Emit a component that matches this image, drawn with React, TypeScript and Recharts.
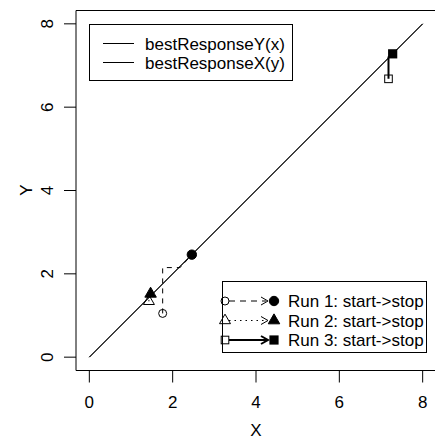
import { ComposedChart, Scatter, XAxis, YAxis, ReferenceArea } from 'recharts'

const FONT = '"Liberation Sans", Arial, Helvetica, sans-serif'
const FS = 17

// axis setup
const AXIS_DOMAIN: [number, number] = [-0.32, 8.32]
const X_TICKS = [0, 2, 4, 6, 8]
const Y_TICKS = [0, 2, 4, 6, 8]

// best-response curves (both sit on the diagonal)
const bestResponseY = [
  { x: 0, y: 0 },
  { x: 8, y: 8 },
]
const bestResponseX = [
  { x: 0, y: 0 },
  { x: 8, y: 8 },
]

// iteration paths, start -> stop
const run1Path = [
  { x: 1.76, y: 1.05 },
  { x: 1.76, y: 2.15 },
  { x: 2.18, y: 2.15 },
  { x: 2.46, y: 2.46 },
]
const run2Path = [
  { x: 1.43, y: 1.34 },
  { x: 1.43, y: 1.49 },
  { x: 1.47, y: 1.52 },
]
const run3Path = [
  { x: 7.18, y: 6.68 },
  { x: 7.18, y: 7.2 },
  { x: 7.28, y: 7.28 },
]

const run1Start = [{ x: 1.76, y: 1.05 }]
const run1Stop = [{ x: 2.46, y: 2.46 }]
const run2Start = [{ x: 1.43, y: 1.34 }]
const run2Stop = [{ x: 1.47, y: 1.52 }]
const run3Start = [{ x: 7.18, y: 6.68 }]
const run3Stop = [{ x: 7.28, y: 7.28 }]

const CURVE_LABELS = ['bestResponseY(x)', 'bestResponseX(y)']
const RUN_LABELS = ['Run 1: start->stop', 'Run 2: start->stop', 'Run 3: start->stop']

type Kind = 'circle' | 'triangle' | 'square'

function Marker({ kind, filled, cx, cy }: { kind: Kind; filled: boolean; cx: number; cy: number }) {
  const fill = filled ? '#000' : 'none'
  if (kind === 'circle') {
    return <circle cx={cx} cy={cy} r={filled ? 4.7 : 4} fill={fill} stroke="#000" strokeWidth={1} />
  }
  if (kind === 'triangle') {
    const s = filled ? 11.5 : 11
    const pts = [
      [cx, cy - s * 0.577],
      [cx - s / 2, cy + s * 0.289],
      [cx + s / 2, cy + s * 0.289],
    ]
      .map(p => p.join(','))
      .join(' ')
    return <polygon points={pts} fill={fill} stroke="#000" strokeWidth={1} />
  }
  const h = filled ? 4.6 : 3.8
  return <rect x={cx - h} y={cy - h} width={h * 2} height={h * 2} fill={fill} stroke="#000" strokeWidth={filled ? 0 : 1} />
}

const noDot = () => <g />
const dot = (kind: Kind, filled: boolean) => (p: any) => <Marker kind={kind} filled={filled} cx={p.cx} cy={p.cy} />

const XTick = (p: any) => (
  <text x={p.x} y={p.y + 23} textAnchor="middle" fontSize={FS} fontFamily={FONT} fill="#000">
    {p.payload.value}
  </text>
)

const YTick = (p: any) => {
  const bx = p.x - 9
  return (
    <text
      x={bx}
      y={p.y}
      transform={`rotate(-90, ${bx}, ${p.y})`}
      textAnchor="middle"
      fontSize={FS}
      fontFamily={FONT}
      fill="#000"
    >
      {p.payload.value}
    </text>
  )
}

function Arrow({ x, y, thick }: { x: number; y: number; thick?: boolean }) {
  return (
    <polyline
      points={`${x - 7},${y - 4} ${x},${y} ${x - 7},${y + 4}`}
      fill="none"
      stroke="#000"
      strokeWidth={thick ? 2 : 1}
    />
  )
}

function Legends() {
  const rows = [301, 320.5, 340]
  const kinds: Kind[] = ['circle', 'triangle', 'square']
  return (
    <svg width={435} height={441} style={{ position: 'absolute', left: 0, top: 0, pointerEvents: 'none' }}>
      {/* curve legend */}
      <rect x={89.5} y={24.5} width={203} height={56} fill="#fff" stroke="#000" />
      {CURVE_LABELS.map((lab, i) => {
        const y = 43.5 + i * 19
        return (
          <g key={lab}>
            <line x1={103} x2={134} y1={y} y2={y} stroke="#000" />
            <text x={145} y={y + 6} fontSize={FS} fontFamily={FONT} fill="#000">
              {lab}
            </text>
          </g>
        )
      })}

      {/* run legend */}
      <rect x={222.5} y={281.5} width={204} height={71} fill="#fff" stroke="#000" />
      {RUN_LABELS.map((lab, i) => {
        const y = rows[i]
        const dash = i === 0 ? '6 5' : i === 1 ? '1.5 4' : undefined
        return (
          <g key={lab}>
            <line
              x1={229}
              x2={i === 2 ? 268 : 266}
              y1={y}
              y2={y}
              stroke="#000"
              strokeWidth={i === 2 ? 2 : 1}
              strokeDasharray={dash}
            />
            <Arrow x={268} y={y} thick={i === 2} />
            <Marker kind={kinds[i]} filled={false} cx={225} cy={y} />
            <Marker kind={kinds[i]} filled cx={274} cy={y} />
            <text x={288} y={y + 6} fontSize={FS} fontFamily={FONT} fill="#000">
              {lab}
            </text>
          </g>
        )
      })}

      {/* axis titles */}
      <text x={256} y={436} textAnchor="middle" fontSize={FS} fontFamily={FONT} fill="#000">
        X
      </text>
      <text
        x={32}
        y={190}
        transform="rotate(-90, 32, 190)"
        textAnchor="middle"
        fontSize={FS}
        fontFamily={FONT}
        fill="#000"
      >
        Y
      </text>
    </svg>
  )
}

export default function App() {
  return (
    <div
      style={{
        position: 'absolute',
        left: 0,
        top: 0,
        width: 435,
        height: 441,
        overflow: 'hidden',
        background: '#fff',
        fontFamily: FONT,
      }}
    >
      <ComposedChart width={436} height={441} margin={{ top: 10.5, right: 0, bottom: 0, left: 0 }}>
        <XAxis
          type="number"
          dataKey="x"
          domain={AXIS_DOMAIN}
          ticks={X_TICKS}
          allowDataOverflow
          height={70.5}
          tickSize={12}
          axisLine={false}
          tickLine={{ stroke: '#000' }}
          tick={XTick}
          interval={0}
        />
        <YAxis
          type="number"
          dataKey="y"
          domain={AXIS_DOMAIN}
          ticks={Y_TICKS}
          allowDataOverflow
          width={76}
          tickSize={12}
          axisLine={false}
          tickLine={{ stroke: '#000' }}
          tick={YTick}
          interval={0}
        />
        <ReferenceArea
          x1={AXIS_DOMAIN[0]}
          x2={AXIS_DOMAIN[1]}
          y1={AXIS_DOMAIN[0]}
          y2={AXIS_DOMAIN[1]}
          fill="none"
          stroke="#000"
          strokeOpacity={1}
          ifOverflow="visible"
        />
        <Scatter data={bestResponseY} fill="#000" line={{ stroke: '#000', strokeWidth: 1 }} lineType="joint" shape={noDot} isAnimationActive={false} />
        <Scatter data={bestResponseX} fill="#000" line={{ stroke: '#000', strokeWidth: 1 }} lineType="joint" shape={noDot} isAnimationActive={false} />
        <Scatter data={run1Path} fill="#000" line={{ stroke: '#000', strokeWidth: 1, strokeDasharray: '5 5' }} lineType="joint" shape={noDot} isAnimationActive={false} />
        <Scatter data={run2Path} fill="#000" line={{ stroke: '#000', strokeWidth: 1, strokeDasharray: '1.5 3' }} lineType="joint" shape={noDot} isAnimationActive={false} />
        <Scatter data={run3Path} fill="#000" line={{ stroke: '#000', strokeWidth: 2 }} lineType="joint" shape={noDot} isAnimationActive={false} />
        <Scatter data={run1Start} shape={dot('circle', false)} isAnimationActive={false} />
        <Scatter data={run2Start} shape={dot('triangle', false)} isAnimationActive={false} />
        <Scatter data={run3Start} shape={dot('square', false)} isAnimationActive={false} />
        <Scatter data={run1Stop} shape={dot('circle', true)} isAnimationActive={false} />
        <Scatter data={run2Stop} shape={dot('triangle', true)} isAnimationActive={false} />
        <Scatter data={run3Stop} shape={dot('square', true)} isAnimationActive={false} />
      </ComposedChart>
      <Legends />
    </div>
  )
}
